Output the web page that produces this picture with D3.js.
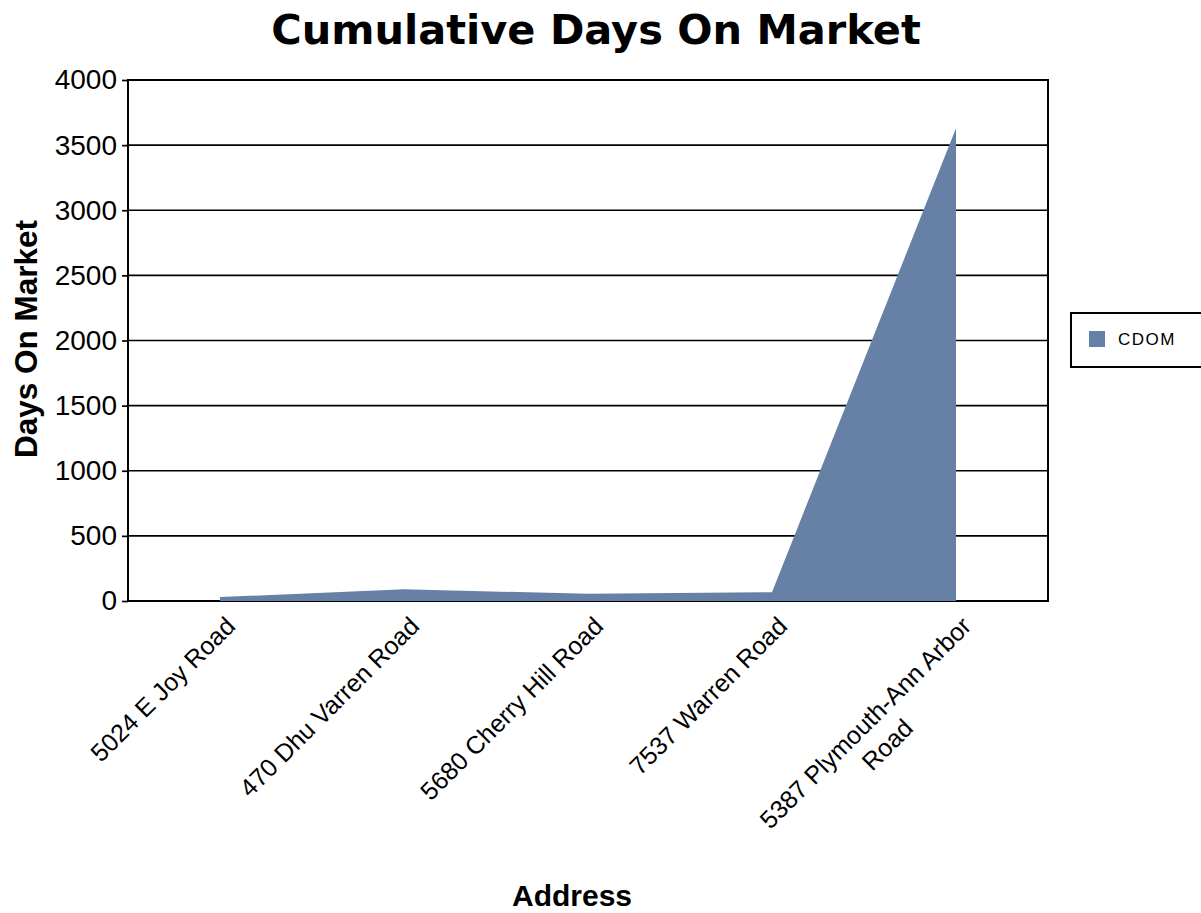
<!DOCTYPE html>
<html>
<head>
<meta charset="utf-8">
<title>Cumulative Days On Market</title>
<style>
  body { margin: 0; background: #fff; }
  svg { display: block; }
</style>
</head>
<body>
<div id="chart"></div>
<script src="https://cdn.jsdelivr.net/npm/d3@7"></script>
<script>
  var addresses = [
    ["5024 E Joy Road"],
    ["470 Dhu Varren Road"],
    ["5680 Cherry Hill Road"],
    ["7537 Warren Road"],
    ["5387 Plymouth-Ann Arbor", "Road"]
  ];
  var cdom = [30, 90, 55, 68, 3630];
  var yTicks = [0, 500, 1000, 1500, 2000, 2500, 3000, 3500, 4000];
  var seriesName = "CDOM";

  (function(){
    var W = 1201, H = 913;
    var pl = 128, pr = 1048, pt = 80, pb = 601;
    var fill = "#6680a6";

    var svg = d3.select("#chart").append("svg")
      .attr("width", W)
      .attr("height", H);

    var x = d3.scalePoint()
      .domain(d3.range(addresses.length))
      .range([pl, pr])
      .padding(0.5);

    var y = d3.scaleLinear()
      .domain([0, 4000])
      .range([pb, pt]);

    // gridlines
    svg.append("g")
      .selectAll("line")
      .data(yTicks)
      .enter().append("line")
        .attr("x1", pl).attr("x2", pr)
        .attr("y1", function(d){ return y(d); })
        .attr("y2", function(d){ return y(d); })
        .attr("stroke", "#000")
        .attr("stroke-width", 1.7);

    // y axis
    var yAxis = svg.append("g")
      .attr("transform", "translate(" + pl + ",0)")
      .call(d3.axisLeft(y).tickValues(yTicks).tickSize(6).tickPadding(5).tickFormat(d3.format("d")));
    yAxis.select(".domain").remove();
    yAxis.selectAll(".tick line").attr("stroke", "#000").attr("stroke-width", 1.7);
    yAxis.selectAll(".tick text")
      .attr("font-family", "Liberation Sans, Arial, sans-serif")
      .attr("font-size", 28)
      .attr("fill", "#000");

    // frame
    svg.append("rect")
      .attr("x", pl).attr("y", pt)
      .attr("width", pr - pl).attr("height", pb - pt)
      .attr("fill", "none")
      .attr("stroke", "#000")
      .attr("stroke-width", 2);

    // area
    var area = d3.area()
      .x(function(d, i){ return x(i); })
      .y0(y(0))
      .y1(function(d){ return y(d); });

    svg.append("path")
      .datum(cdom)
      .attr("d", area)
      .attr("fill", fill);

    // x labels
    var labels = svg.append("g")
      .selectAll("g")
      .data(addresses)
      .enter().append("g")
        .attr("transform", function(d, i){
          return "translate(" + (x(i) + 4) + "," + (pb + 14) + ") rotate(-45)";
        });

    labels.each(function(lines){
      var t = d3.select(this).append("text")
        .attr("font-family", "Liberation Sans, Arial, sans-serif")
        .attr("font-size", 25)
        .attr("fill", "#000");
      var spans = t.selectAll("tspan")
        .data(lines)
        .enter().append("tspan")
          .text(function(d){ return d; });
      var widths = [];
      spans.each(function(){ widths.push(this.getComputedTextLength()); });
      var maxW = d3.max(widths);
      spans
        .attr("x", -maxW / 2)
        .attr("y", function(d, i){ return 18 + i * 31; })
        .attr("text-anchor", "middle");
    });

    // title
    svg.append("text")
      .attr("x", 596).attr("y", 44)
      .attr("text-anchor", "middle")
      .attr("font-family", "DejaVu Sans, Verdana, sans-serif")
      .attr("font-weight", "bold")
      .attr("font-size", 41.5)
      .text("Cumulative Days On Market");

    // axis titles
    svg.append("text")
      .attr("transform", "translate(37,339) rotate(-90)")
      .attr("text-anchor", "middle")
      .attr("font-family", "Liberation Sans, Arial, sans-serif")
      .attr("font-weight", "bold")
      .attr("font-size", 31.5)
      .text("Days On Market");

    svg.append("text")
      .attr("x", 572).attr("y", 906)
      .attr("text-anchor", "middle")
      .attr("font-family", "Liberation Sans, Arial, sans-serif")
      .attr("font-weight", "bold")
      .attr("font-size", 30)
      .text("Address");

    // legend
    var legend = svg.append("g").attr("transform", "translate(1071,313)");
    legend.append("rect")
      .attr("width", 140).attr("height", 54)
      .attr("fill", "#fff")
      .attr("stroke", "#000")
      .attr("stroke-width", 2);
    legend.append("rect")
      .attr("x", 18).attr("y", 18)
      .attr("width", 16).attr("height", 16)
      .attr("fill", fill);
    legend.append("text")
      .attr("x", 47).attr("y", 32)
      .attr("font-family", "Liberation Sans, Arial, sans-serif")
      .attr("font-size", 17)
      .attr("letter-spacing", 1.5)
      .text(seriesName);
  })();
</script>
</body>
</html>
